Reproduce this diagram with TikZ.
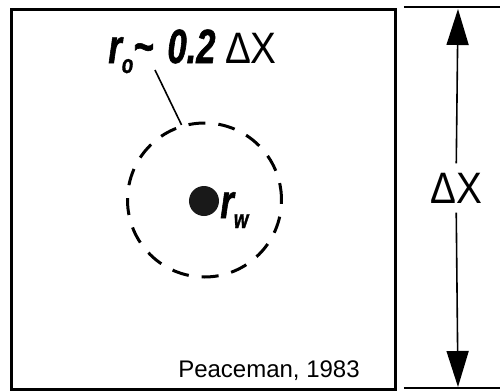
\documentclass[tikz,border=0pt]{standalone}
\usepackage{fontspec}
\setmainfont{Liberation Sans}
\newfontfamily\condfont[FakeStretch=0.72, FakeBold=1.2]{Liberation Sans}
\newfontfamily\deltafont[FakeStretch=0.88]{Liberation Sans}
\usetikzlibrary{arrows.meta, positioning}
\newcommand{\lowsub}[1]{\raisebox{-5pt}{\fontsize{13}{13}\selectfont #1}}

\begin{document}
\begin{tikzpicture}[
    x=0.5pt, y=-0.5pt,
    cell/.style={draw, line width=1.5pt},
    radius/.style={circle, draw, dashed, line width=1.5pt, dash pattern=on 8.5pt off 6.5pt, minimum size=77pt, inner sep=0pt},
    well/.style={circle, fill=black!90, minimum size=15pt, inner sep=0pt},
    label/.style={font=\condfont\bfseries\itshape\fontsize{24}{24}\selectfont, anchor=base west, inner sep=0pt},
    dimline/.style={line width=1pt},
    arr/.style={-{Triangle[length=18pt, width=11pt]}, line width=0.8pt},
]
\useasboundingbox (0,0) rectangle (500,392);

% grid cell
\node[cell, minimum width=192pt, minimum height=190pt, inner sep=0pt] (cell) at (204,199) {};

% well and equivalent radius
\node[radius] (ro) at (204.5,200) {};
\node[well] (rw) at (204,201) {};
\node[label] (rwtext) at (220,218) {r\lowsub{w}};
\node[label] (rotext) at (108,63) {r\lowsub{o}\textasciitilde\hspace{7pt}0.2 {\deltafont\mdseries\upshape\fontsize{22}{22}\selectfont ΔX}};
\coordinate (lead) at (155,70);
\draw[line width=0.8pt] (lead) -- (ro.107);

% dimension
\coordinate (t1) at (404,7);
\coordinate (t2) at (500,7);
\coordinate (b1) at (404,388);
\coordinate (b2) at (500,388);
\draw[dimline] (t1) -- (t2);
\draw[dimline] (b1) -- (b2);
\coordinate (top) at (458,9);
\coordinate (bot) at (458,387);
\node[font=\deltafont\fontsize{22}{22}\selectfont, inner sep=4.5pt] (dx) at (456,188) {ΔX};
\draw[arr] (dx) -- (top);
\draw[arr] (dx) -- (bot);

\node[font=\fontsize{12}{12}\selectfont, anchor=base] (src) at (269,377) {Peaceman, 1983};
\end{tikzpicture}
\end{document}
